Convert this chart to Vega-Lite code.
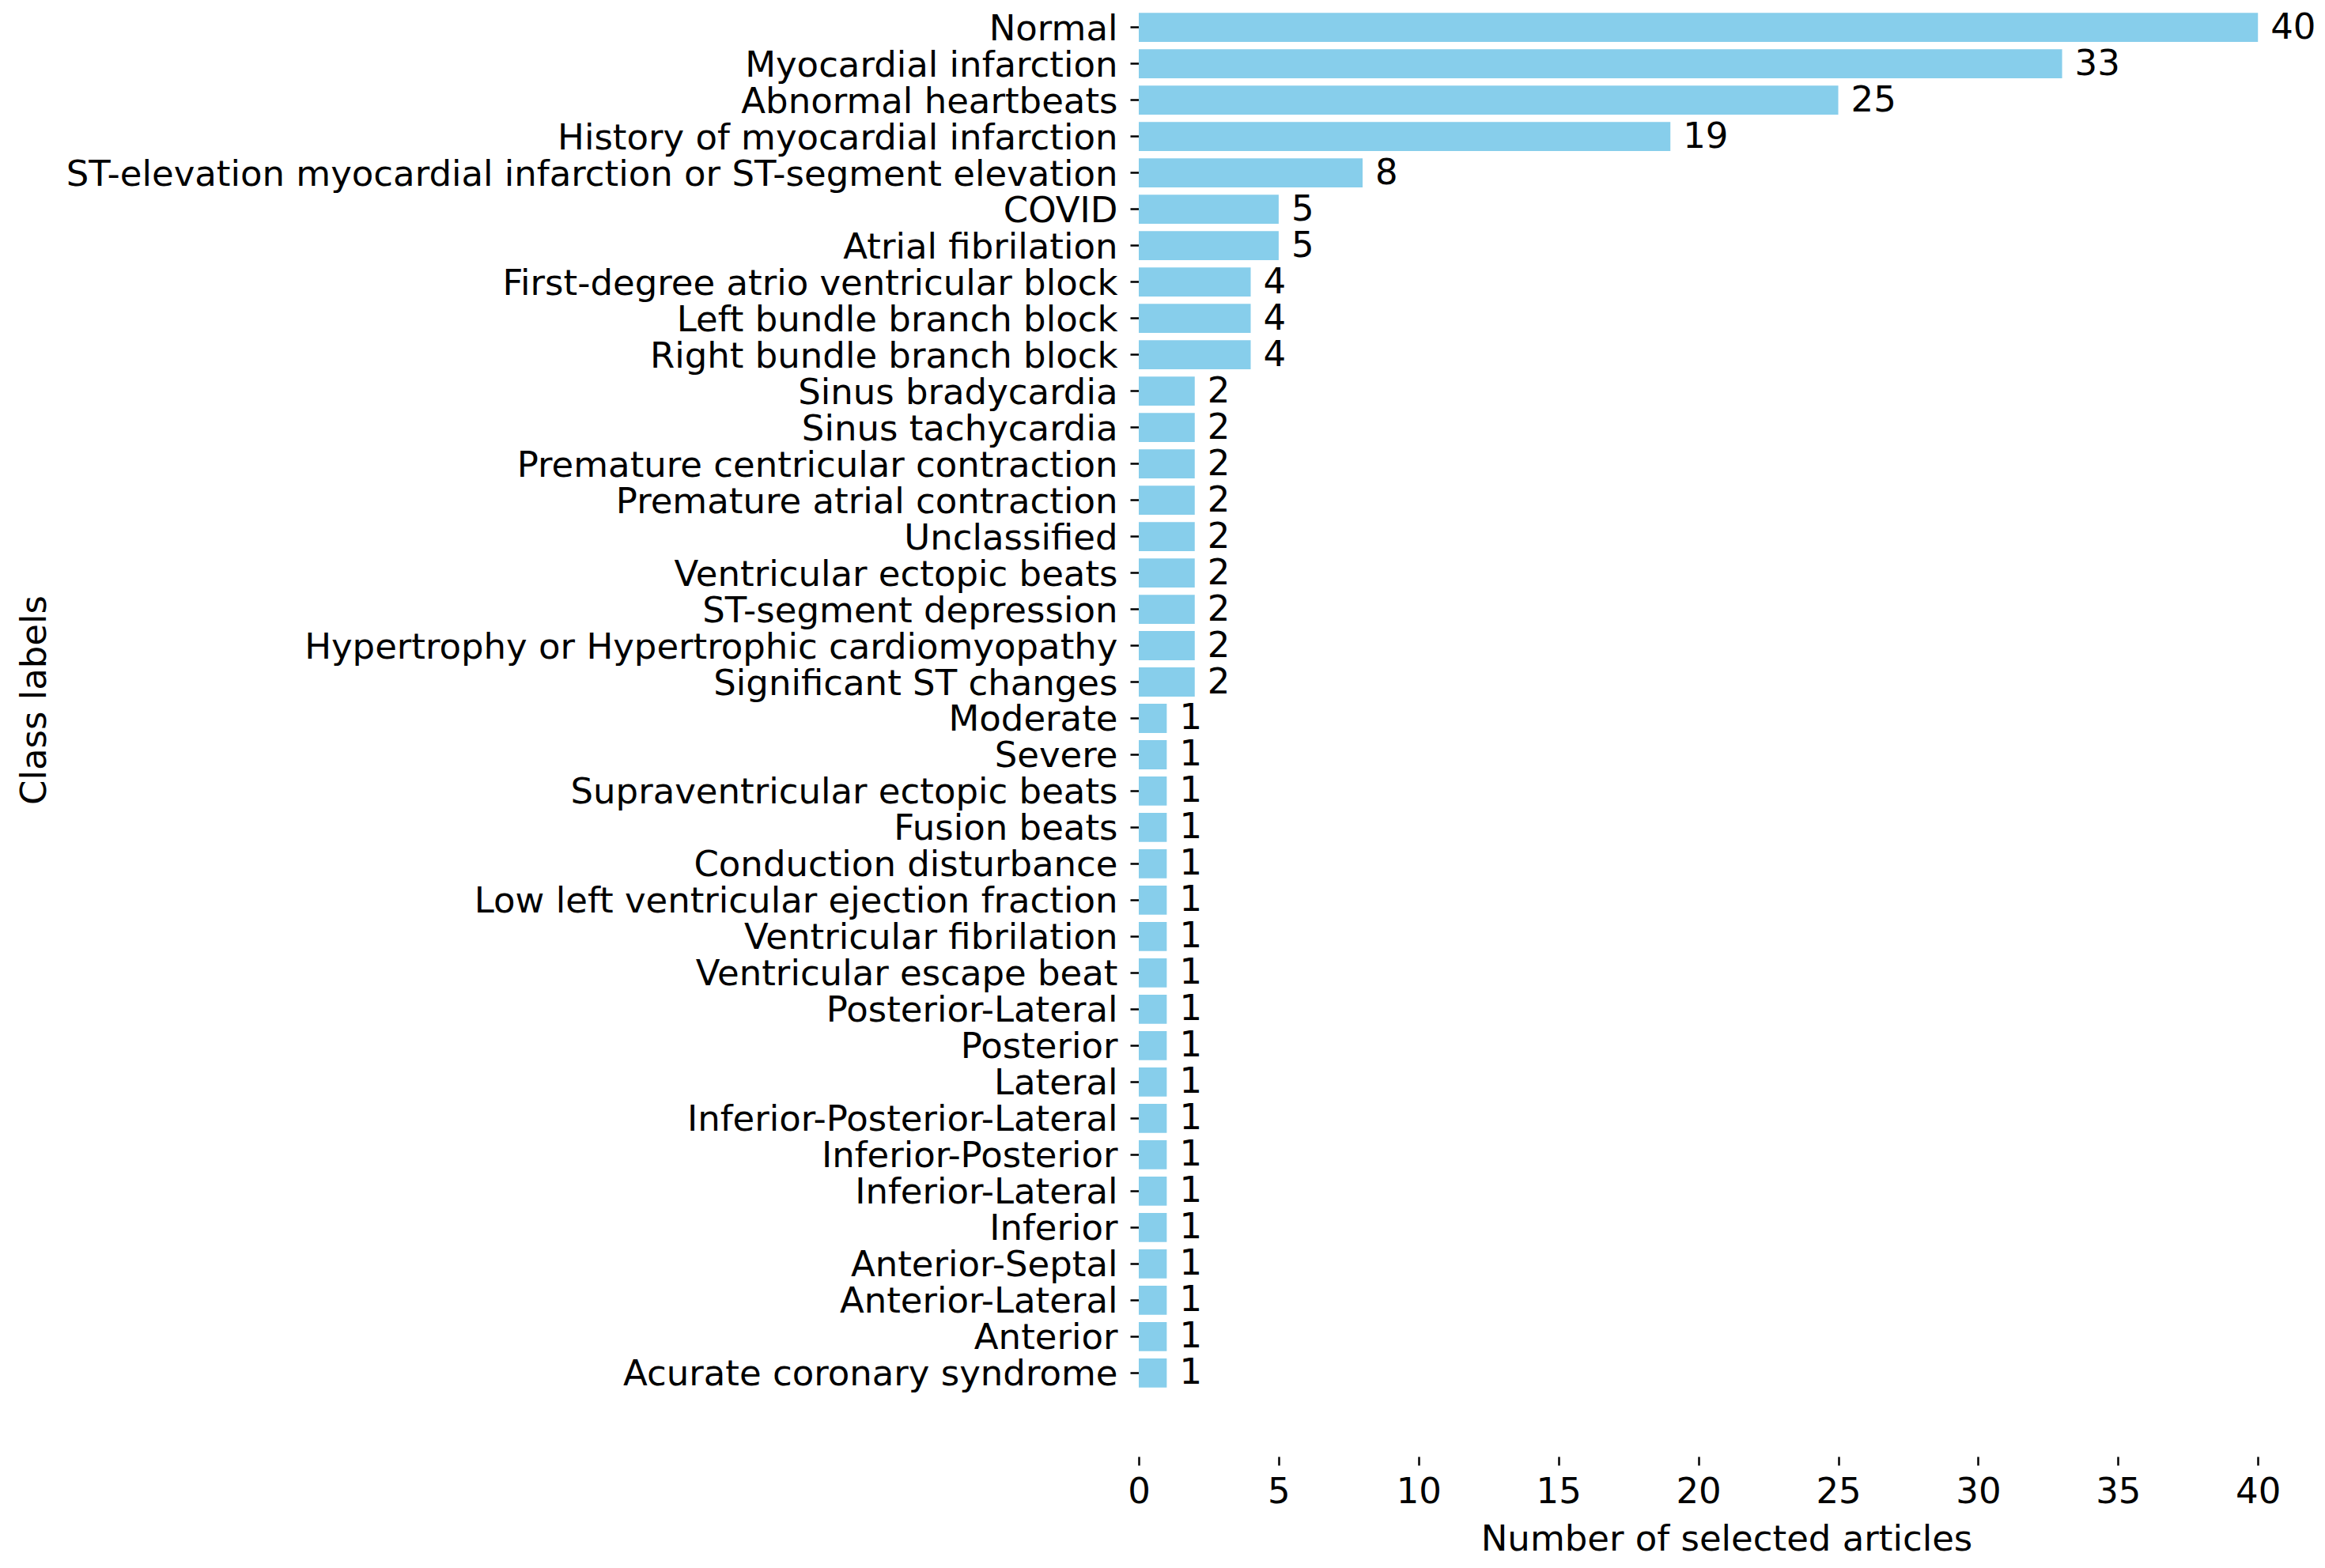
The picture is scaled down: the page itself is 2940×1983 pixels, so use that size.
{
  "$schema": "https://vega.github.io/schema/vega-lite/v6.json",
  "autosize": {"type": "none"},
  "padding": {"left": 1440, "top": 0, "right": 14, "bottom": 212},
  "width": 1486,
  "height": 1771,
  "background": "white",
  "config": {
    "view": {"stroke": null},
    "font": "DejaVu Sans",
    "axis": {"labelColor": "#000", "titleColor": "#000", "tickColor": "#000", "titleFontWeight": "normal", "labelFont": "DejaVu Sans", "titleFont": "DejaVu Sans"}
  },
  "data": {
    "values": [
      {"label": "Normal", "count": 40},
      {"label": "Myocardial infarction", "count": 33},
      {"label": "Abnormal heartbeats", "count": 25},
      {"label": "History of myocardial infarction", "count": 19},
      {"label": "ST-elevation myocardial infarction or ST-segment elevation", "count": 8},
      {"label": "COVID", "count": 5},
      {"label": "Atrial fibrilation", "count": 5},
      {"label": "First-degree atrio ventricular block", "count": 4},
      {"label": "Left bundle branch block", "count": 4},
      {"label": "Right bundle branch block", "count": 4},
      {"label": "Sinus bradycardia", "count": 2},
      {"label": "Sinus tachycardia", "count": 2},
      {"label": "Premature centricular contraction", "count": 2},
      {"label": "Premature atrial contraction", "count": 2},
      {"label": "Unclassified", "count": 2},
      {"label": "Ventricular ectopic beats", "count": 2},
      {"label": "ST-segment depression", "count": 2},
      {"label": "Hypertrophy or Hypertrophic cardiomyopathy", "count": 2},
      {"label": "Significant ST changes", "count": 2},
      {"label": "Moderate", "count": 1},
      {"label": "Severe", "count": 1},
      {"label": "Supraventricular ectopic beats", "count": 1},
      {"label": "Fusion beats", "count": 1},
      {"label": "Conduction disturbance", "count": 1},
      {"label": "Low left ventricular ejection fraction", "count": 1},
      {"label": "Ventricular fibrilation", "count": 1},
      {"label": "Ventricular escape beat", "count": 1},
      {"label": "Posterior-Lateral", "count": 1},
      {"label": "Posterior", "count": 1},
      {"label": "Lateral", "count": 1},
      {"label": "Inferior-Posterior-Lateral", "count": 1},
      {"label": "Inferior-Posterior", "count": 1},
      {"label": "Inferior-Lateral", "count": 1},
      {"label": "Inferior", "count": 1},
      {"label": "Anterior-Septal", "count": 1},
      {"label": "Anterior-Lateral", "count": 1},
      {"label": "Anterior", "count": 1},
      {"label": "Acurate coronary syndrome", "count": 1}
    ]
  },
  "encoding": {
    "y": {
      "field": "label", "type": "nominal", "sort": null,
      "scale": {"paddingInner": 0.2, "paddingOuter": 0.354},
      "axis": {
        "title": "Class labels", "domain": false, "grid": false,
        "ticks": true, "tickSize": 11, "tickWidth": 2.5,
        "labelFontSize": 45, "labelPadding": 16, "labelLimit": 0, "labelOffset": 2,
        "titleFontSize": 45, "titleAngle": -90, "titleX": -1383, "titleY": 885,
        "titleBaseline": "alphabetic", "titleAlign": "center"
      }
    },
    "x": {
      "field": "count", "type": "quantitative",
      "scale": {"domain": [0, 42], "nice": false},
      "axis": {
        "title": "Number of selected articles", "domain": false, "grid": false,
        "values": [0, 5, 10, 15, 20, 25, 30, 35, 40],
        "ticks": true, "tickSize": 11, "tickWidth": 2.5,
        "labelFontSize": 45, "labelPadding": 11, "labelFlush": false,
        "titleFontSize": 45, "titlePadding": 15, "offset": 71
      }
    }
  },
  "layer": [
    {"mark": {"type": "bar", "color": "#87CEEB"}},
    {"mark": {"type": "text", "align": "left", "baseline": "middle", "dx": 16, "dy": 0, "fontSize": 45, "color": "#000", "font": "DejaVu Sans"},
     "encoding": {"text": {"field": "count", "type": "quantitative"}}}
  ]
}
